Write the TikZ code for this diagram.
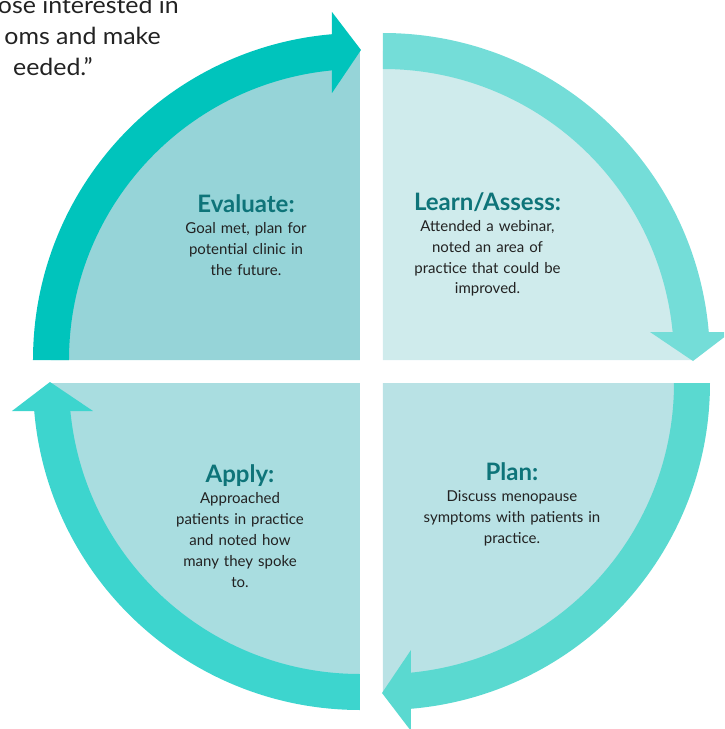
\documentclass[tikz,border=0pt]{standalone}
\usepackage{fontspec}
\setmainfont{Lato}
\newfontfamily\quotefont[FakeStretch=1.06]{Lato}
\usetikzlibrary{positioning}

\definecolor{evalband}{RGB}{0,196,188}
\definecolor{evalfill}{RGB}{150,212,216}
\definecolor{learnband}{RGB}{116,221,216}
\definecolor{learnfill}{RGB}{207,235,236}
\definecolor{planband}{RGB}{90,217,208}
\definecolor{planfill}{RGB}{185,226,229}
\definecolor{applyband}{RGB}{61,213,206}
\definecolor{applyfill}{RGB}{169,221,224}
\definecolor{titleteal}{RGB}{14,116,121}
\definecolor{bodygray}{RGB}{34,34,34}

\tikzset{
  stage/.style={text width=230pt, align=center, inner sep=0pt, anchor=base,
    text=bodygray, font=\fontsize{15}{21}\selectfont},
  quoteline/.style={inner sep=0pt, anchor=base east, text=bodygray,
    font=\quotefont\fontsize{23.5}{31}\selectfont},
}
\newcommand{\stagename}[1]{{\fontsize{24}{21}\selectfont\bfseries\color{titleteal}#1}}

\begin{document}
\begin{tikzpicture}[x=1pt, y=1pt]
  \useasboundingbox (-371.5,-357.5) rectangle (352.5,371.5);
  \clip (-371.5,-357.5) rectangle (352.5,371.5);

  % tail of the quote above the cycle
  \node (quote1) at (-192.5,357.5) [quoteline] {ose interested in};
  \node (quote2) at (-210.5,326.5) [quoteline] {oms and make};
  \node (quote3) at (-278.5,295.5) [quoteline] {eeded.”};

  % evaluate (top left)
  \begin{scope}[shift={(-11.5,11.5)}]
    \fill[evalfill] (0,0) -- (180:309) arc[start angle=180, end angle=90, radius=309] -- cycle;
    \fill[evalband] (180:327) arc[start angle=180, end angle=94.91, radius=327]
      -- (95.52:291) arc[start angle=95.52, end angle=180, radius=291] -- cycle;
    \fill[evalband] (-28,267) -- (1,310) -- (-28,348) -- cycle;
  \end{scope}

  % learn / assess (top right)
  \begin{scope}[shift={(11.5,11.5)}, rotate=-90]
    \fill[learnfill] (0,0) -- (180:309) arc[start angle=180, end angle=90, radius=309] -- cycle;
    \fill[learnband] (180:327) arc[start angle=180, end angle=94.91, radius=327]
      -- (95.52:291) arc[start angle=95.52, end angle=180, radius=291] -- cycle;
    \fill[learnband] (-28,267) -- (1,310) -- (-28,348) -- cycle;
  \end{scope}

  % plan (bottom right)
  \begin{scope}[shift={(11.5,-11.5)}, rotate=180]
    \fill[planfill] (0,0) -- (180:309) arc[start angle=180, end angle=90, radius=309] -- cycle;
    \fill[planband] (180:327) arc[start angle=180, end angle=94.91, radius=327]
      -- (95.52:291) arc[start angle=95.52, end angle=180, radius=291] -- cycle;
    \fill[planband] (-28,267) -- (1,310) -- (-28,348) -- cycle;
  \end{scope}

  % apply (bottom left)
  \begin{scope}[shift={(-11.5,-11.5)}, rotate=90]
    \fill[applyfill] (0,0) -- (180:309) arc[start angle=180, end angle=90, radius=309] -- cycle;
    \fill[applyband] (180:327) arc[start angle=180, end angle=94.91, radius=327]
      -- (95.52:291) arc[start angle=95.52, end angle=180, radius=291] -- cycle;
    \fill[applyband] (-28,267) -- (1,310) -- (-28,348) -- cycle;
  \end{scope}

  \node (evaluate) at (-125.5,159.5) [stage]
    {\stagename{Evaluate:}\\ Goal met, plan for\\ potential clinic in\\ the future.};
  \node (learn) at (116,161.5) [stage]
    {\stagename{Learn/Assess:}\\ Attended a webinar,\\ noted an area of\\ practice that could be\\ improved.};
  \node (apply) at (-131.5,-110.5) [stage]
    {\stagename{Apply:}\\ Approached\\ patients in practice\\ and noted how\\ many they spoke\\ to.};
  \node (plan) at (140.5,-108.5) [stage]
    {\stagename{Plan:}\\ Discuss menopause\\ symptoms with patients in\\ practice.};
\end{tikzpicture}
\end{document}
